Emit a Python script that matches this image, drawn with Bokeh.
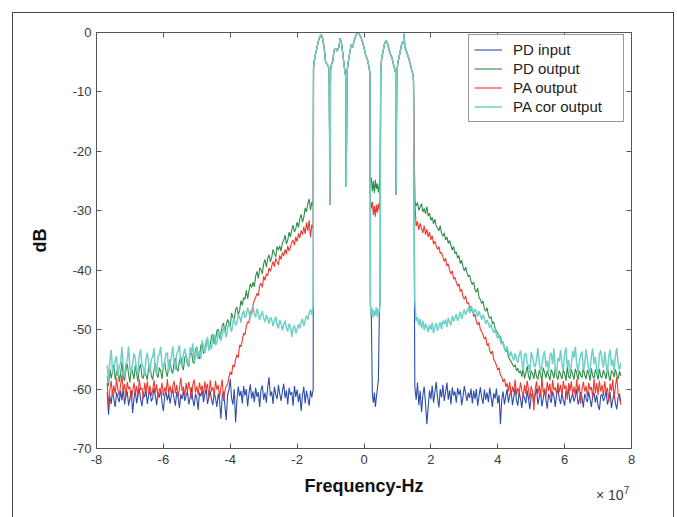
import numpy as np
from bokeh.plotting import figure
from bokeh.models import FixedTicker, LinearAxis, Legend, LegendItem, Range1d, Div
from bokeh.layouts import column
from bokeh.embed import file_html
from bokeh.resources import INLINE

# ---------------- data (frequency in units of 1e7 Hz, level in dB) ----------------
series_names = ["PD input", "PD output", "PA output", "PA cor output"]
x_ticks = [-8, -6, -4, -2, 0, 2, 4, 6, 8]
y_ticks = [-70, -60, -50, -40, -30, -20, -10, 0]

# sampling grid of the out-of-band parts (-7.68 .. -1.52 and 1.52 .. 7.68, step 0.04)
left_freq = np.round(-7.68 + 0.04 * np.arange(155), 2)
right_freq = np.round(1.52 + 0.04 * np.arange(155), 2)

# in-band spectrum (shared by all four traces)
band_left_freq = [-1.51, -1.49, -1.45, -1.42, -1.38, -1.34, -1.30, -1.27, -1.24, -1.21,
                  -1.18, -1.15, -1.11, -1.07, -1.04, -1.02, -1.00, -0.97, -0.93, -0.90,
                  -0.85, -0.80, -0.75, -0.71, -0.67, -0.64, -0.60, -0.56, -0.54, -0.53,
                  -0.51, -0.48, -0.42, -0.38, -0.34, -0.30, -0.25, -0.20, -0.15, -0.10,
                  -0.05, 0.00, 0.05, 0.10, 0.15, 0.18]
band_left_db = [-6.0, -4.9, -3.6, -3.0, -1.8, -1.0, -0.5, -0.4, -1.0, -1.9,
                -3.2, -4.9, -5.3, -5.6, -6.5, -29.0, -6.2, -5.3, -4.8, -3.0,
                -2.7, -3.1, -2.4, -1.0, -1.9, -3.3, -5.3, -7.0, -7.4, -26.0,
                -6.8, -5.3, -3.2, -2.0, -2.5, -1.5, -0.6, 0.0, -0.2, -0.7,
                -1.5, -2.5, -3.8, -4.5, -5.8, -7.0]
band_right_freq = [0.50, 0.53, 0.57, 0.61, 0.66, 0.70, 0.75, 0.80, 0.84, 0.89,
                   0.93, 0.95, 0.96, 0.98, 1.01, 1.06, 1.10, 1.14, 1.18, 1.20,
                   1.22, 1.27, 1.32, 1.37, 1.42, 1.46, 1.48]
band_right_db = [-6.3, -4.3, -3.2, -2.0, -1.3, -1.8, -2.9, -3.8, -4.3, -5.6,
                 -6.3, -7.0, -27.3, -6.8, -5.2, -3.8, -2.7, -1.6, -1.8, -0.2,
                 -2.4, -3.2, -4.0, -5.0, -6.2, -7.0, -8.0]

# centre notch
notch_freq = [0.19, 0.22, 0.25, 0.28, 0.31, 0.34, 0.37, 0.40, 0.43, 0.46, 0.48]
pd_input_notch = [-45.5, -48.0, -61.0, -62.3, -60.6, -63.0, -61.4, -60.0, -58.5, -47.0, -45.0]
pd_output_notch = [-25.2, -24.4, -26.7, -25.0, -27.0, -24.8, -26.3, -25.4, -26.9, -25.6, -24.9]
pa_output_notch = [-28.0, -29.6, -28.5, -30.7, -29.2, -31.0, -29.0, -30.3, -28.8, -29.8, -28.4]
pa_cor_notch = [-46.0, -47.5, -46.4, -48.0, -46.8, -47.6, -46.2, -47.9, -46.5, -47.2, -45.5]

# ---- PD input (blue) ----
pd_input_left = [
    -60.5, -64.3, -61.2, -62.5, -60.1, -61.8, -63.0, -60.6, -61.4, -62.2,
    -60.3, -61.9, -59.8, -62.6, -61.0, -60.4, -62.8, -61.5, -60.2, -64.0,
    -61.6, -60.2, -62.4, -61.1, -59.9, -61.7, -62.9, -60.8, -61.3, -60.1,
    -62.5, -61.0, -60.4, -62.1, -61.5, -59.8, -61.2, -62.7, -60.6, -61.4,
    -60.0, -62.3, -63.7, -61.2, -60.5, -61.9, -60.7, -62.4, -61.0, -59.9,
    -61.6, -62.8, -60.5, -61.3, -63.2, -60.9, -61.7, -60.2, -62.0, -61.1,
    -60.4, -62.6, -61.4, -59.7, -61.8, -62.9, -60.8, -61.5, -63.5, -60.6,
    -61.2, -60.1, -62.2, -61.0, -59.9, -62.5, -61.4, -60.3, -61.8, -62.7,
    -60.5, -61.6, -63.0, -60.8, -61.9, -65.0, -61.2, -60.4, -62.8, -65.2,
    -61.0, -60.2, -58.3, -61.5, -62.6, -60.0, -65.6, -61.8, -59.6, -61.2,
    -60.3, -62.4, -59.5, -61.1, -60.0, -62.9, -60.7, -59.2, -61.6, -60.4,
    -62.2, -59.8, -61.3, -60.5, -63.0, -60.1, -59.4, -61.8, -60.6, -62.3,
    -59.7, -58.0, -61.2, -60.4, -62.5, -59.6, -60.9, -61.7, -59.3, -60.8,
    -62.0, -60.3, -59.1, -61.5, -60.2, -62.6, -59.8, -61.0, -60.5, -62.8,
    -59.5, -61.3, -60.1, -62.2, -60.7, -63.7, -61.1, -59.6, -62.4, -60.3,
    -61.5, -62.8, -60.2, -61.4, -60.0]
pd_input_right = [
    -59.5, -61.8, -58.9, -62.7, -60.3, -63.9, -61.0, -59.6, -62.4, -65.9,
    -63.0, -60.2, -61.7, -59.4, -62.3, -60.6, -58.8, -61.5, -63.1, -60.0,
    -61.4, -59.3, -62.0, -60.5, -58.9, -61.8, -60.2, -62.6, -59.7, -61.1,
    -60.4, -62.3, -59.8, -61.0, -60.1, -62.7, -61.3, -59.5, -60.8, -62.0,
    -60.6, -61.5, -59.9, -62.4, -60.3, -61.7, -60.0, -62.8, -61.2, -59.7,
    -61.4, -62.5, -60.1, -61.8, -60.6, -62.2, -59.8, -61.3, -63.0, -60.7,
    -61.6, -59.9, -62.4, -61.0, -65.9, -61.8, -60.4, -62.6, -61.2, -60.0,
    -62.3, -61.0, -60.2, -62.7, -61.4, -59.8, -61.9, -62.8, -60.5, -61.6,
    -63.2, -60.9, -61.5, -62.4, -60.2, -61.7, -63.4, -61.1, -60.6, -62.2,
    -61.0, -59.9, -62.6, -61.4, -60.3, -62.9, -61.6, -60.1, -61.8, -63.3,
    -60.8, -61.5, -62.3, -60.4, -61.2, -63.0, -60.9, -59.8, -61.7, -62.5,
    -60.6, -61.9, -62.8, -60.3, -61.1, -59.9, -62.4, -61.5, -60.7, -62.1,
    -61.3, -60.0, -62.6, -61.8, -60.5, -61.4, -63.1, -60.8, -61.6, -62.2,
    -60.4, -61.7, -63.0, -61.2, -60.6, -62.3, -61.0, -62.8, -63.5, -61.1,
    -60.9, -62.0, -61.4, -60.3, -62.6, -61.7, -60.5, -63.2, -61.8, -60.7,
    -62.4, -63.4, -61.3, -60.8, -62.1]

# ---- PD output (green) ----
pd_output_left = [
    -57.8, -59.5, -56.6, -58.2, -57.0, -55.9, -58.4, -57.3, -56.2, -58.8,
    -57.5, -55.4, -57.9, -58.6, -56.8, -55.7, -57.6, -58.9, -56.4, -57.2,
    -58.3, -56.0, -57.4, -58.7, -56.5, -55.8, -57.9, -58.2, -56.9, -57.6,
    -58.5, -56.3, -55.9, -57.8, -58.4, -56.7, -55.6, -57.5, -58.1, -56.4,
    -57.0, -58.3, -56.1, -55.4, -57.2, -57.9, -55.8, -55.0, -56.9, -57.4,
    -55.5, -54.8, -56.6, -57.0, -55.2, -54.5, -56.1, -56.8, -54.7, -54.2,
    -55.9, -56.2, -54.0, -53.6, -55.4, -55.7, -53.3, -52.9, -54.8, -54.9,
    -52.6, -52.4, -54.0, -53.8, -51.9, -51.6, -53.2, -52.7, -51.0, -50.8,
    -52.4, -51.6, -50.2, -49.9, -51.5, -50.6, -49.3, -48.9, -50.4, -49.2,
    -48.3, -48.8, -49.5, -47.2, -47.9, -48.4, -46.6, -46.2, -47.5, -46.8,
    -45.1, -45.9, -44.6, -44.9, -43.4, -44.8, -43.5, -42.3, -42.9, -42.0,
    -42.8, -41.0, -40.2, -41.4, -39.6, -39.9, -40.6, -38.9, -38.2, -39.5,
    -38.0, -37.4, -38.6, -37.9, -36.5, -37.2, -37.8, -36.0, -36.6, -35.9,
    -36.8, -35.4, -35.0, -34.1, -35.6, -34.9, -33.6, -34.4, -33.2, -32.4,
    -33.6, -33.0, -31.9, -32.8, -31.4, -30.6, -31.9, -31.1, -29.5, -30.2,
    -28.8, -28.0, -29.9, -28.5, -29.2]
pd_output_right = [
    -28.4, -29.2, -28.6, -29.9, -29.4, -28.8, -30.2, -29.6, -30.5, -29.3,
    -30.9, -30.4, -31.6, -31.1, -32.2, -31.4, -32.6, -32.9, -33.4, -32.5,
    -33.8, -34.3, -33.7, -34.9, -34.4, -35.5, -35.0, -35.8, -36.6, -36.0,
    -37.2, -36.9, -38.0, -37.5, -38.9, -38.3, -39.4, -40.1, -39.5, -40.4,
    -41.1, -40.8, -41.9, -42.4, -42.0, -43.3, -43.7, -43.0, -44.6, -44.9,
    -45.6, -45.2, -46.5, -46.9, -46.3, -47.6, -48.1, -47.8, -49.0, -48.7,
    -49.8, -50.2, -50.6, -51.4, -51.1, -52.3, -52.0, -53.2, -53.7, -53.4,
    -54.6, -55.0, -55.4, -55.8, -56.3, -55.9, -56.9, -56.5, -57.3, -56.9,
    -57.9, -56.5, -58.2, -57.3, -56.1, -57.8, -58.5, -56.9, -57.4, -58.3,
    -56.6, -57.9, -58.4, -56.8, -57.5, -58.6, -56.4, -57.2, -58.1, -56.9,
    -57.7, -58.5, -56.7, -57.3, -58.2, -56.5, -57.8, -58.4, -56.9, -57.6,
    -58.3, -56.8, -57.4, -58.6, -56.3, -57.9, -58.2, -56.7, -57.5, -58.4,
    -56.6, -57.3, -58.5, -56.9, -57.7, -58.1, -56.4, -57.6, -58.3, -56.8,
    -57.4, -58.6, -56.5, -57.8, -58.2, -56.7, -57.3, -58.4, -56.6, -57.9,
    -58.1, -56.8, -57.5, -58.3, -56.4, -57.7, -58.6, -56.9, -57.2, -58.0,
    -56.7, -57.6, -58.3, -57.0, -57.8]

# ---- PA output (red) ----
pa_output_left = [
    -59.0, -63.0, -60.2, -58.6, -61.0, -59.4, -60.8, -58.2, -60.1, -61.2,
    -59.3, -57.6, -60.5, -59.1, -61.4, -58.8, -60.0, -59.6, -62.0, -60.4,
    -58.9, -60.7, -59.5, -61.3, -58.4, -60.1, -59.8, -61.6, -59.0, -60.3,
    -58.7, -60.9, -59.4, -61.1, -60.2, -58.5, -60.6, -59.2, -61.5, -59.9,
    -60.4, -58.9, -61.2, -59.7, -60.5, -58.3, -60.8, -59.4, -61.0, -59.6,
    -58.6, -60.7, -59.3, -61.4, -59.9, -58.1, -60.3, -59.6, -61.2, -59.0,
    -60.5, -58.8, -60.0, -61.7, -59.2, -58.4, -60.6, -59.5, -61.0, -58.9,
    -60.2, -59.4, -61.3, -58.7, -60.0, -59.1, -61.6, -58.5, -60.4, -59.7,
    -61.0, -58.6, -60.1, -59.3, -61.5, -59.8, -58.4, -62.0, -60.3, -59.5,
    -59.2, -58.0, -57.1, -57.6, -55.9, -56.3, -55.0, -54.2, -54.7, -52.6,
    -52.9, -51.8, -50.6, -50.9, -49.4, -48.7, -48.9, -46.9, -47.5, -45.9,
    -45.1, -44.6, -43.9, -44.3, -42.5, -42.2, -42.9, -41.0, -41.7, -40.6,
    -40.9, -39.6, -40.2, -39.3, -38.5, -39.4, -38.0, -38.6, -39.1, -37.5,
    -38.2, -37.0, -37.6, -36.5, -37.3, -35.9, -36.8, -36.1, -35.3, -34.9,
    -35.8, -34.4, -35.2, -33.8, -34.6, -33.3, -34.0, -32.7, -33.9, -32.0,
    -33.4, -31.6, -34.5, -32.3, -33.0]
pa_output_right = [
    -28.5, -32.6, -31.8, -33.2, -32.1, -33.0, -33.7, -32.5, -34.0, -33.1,
    -34.4, -33.6, -34.9, -34.2, -35.6, -35.1, -35.9, -36.5, -36.0, -37.2,
    -37.0, -37.8, -38.5, -38.0, -39.3, -38.9, -40.0, -40.6, -40.1, -41.5,
    -41.2, -42.0, -42.7, -42.3, -43.6, -43.2, -44.4, -44.9, -44.3, -45.6,
    -45.4, -46.3, -46.9, -46.5, -47.8, -47.4, -48.6, -49.2, -48.7, -50.0,
    -50.3, -50.9, -51.6, -51.2, -52.7, -52.3, -53.5, -54.1, -53.6, -55.0,
    -55.4, -56.0, -56.8, -56.4, -57.7, -57.9, -58.8, -58.3, -59.6, -59.0,
    -60.4, -58.8, -61.2, -59.6, -60.5, -58.4, -61.0, -59.8, -60.7, -58.9,
    -60.2, -61.5, -59.3, -60.8, -58.6, -60.1, -61.7, -59.5, -60.4, -63.6,
    -60.0, -58.7, -60.9, -59.4, -61.3, -58.2, -60.6, -59.9, -61.4, -58.8,
    -60.3, -59.1, -61.6, -58.5, -60.2, -59.7, -61.0, -58.9, -60.5, -59.3,
    -61.2, -58.6, -60.0, -59.4, -61.8, -59.0, -60.3, -58.7, -60.9, -59.6,
    -61.1, -58.4, -60.6, -59.2, -62.5, -60.0, -58.8, -60.4, -59.5, -61.3,
    -58.9, -60.2, -59.6, -61.5, -58.3, -60.7, -59.0, -61.0, -58.6, -60.4,
    -59.3, -61.2, -58.7, -60.5, -59.8, -62.2, -59.1, -60.3, -58.4, -61.6,
    -59.5, -58.0, -60.8, -61.5, -62.6]

# ---- PA cor output (cyan) ----
pa_cor_left = [
    -56.0, -58.9, -55.2, -53.4, -57.1, -56.6, -55.0, -54.5, -57.8, -56.2,
    -55.6, -52.9, -56.4, -57.9, -55.7, -55.2, -52.8, -56.6, -57.0, -55.9,
    -54.0, -54.8, -56.9, -57.4, -54.3, -53.3, -55.9, -56.3, -57.8, -54.8,
    -53.9, -55.5, -57.2, -55.0, -54.6, -53.1, -56.7, -57.6, -54.5, -54.1,
    -52.9, -56.2, -56.5, -55.4, -54.0, -53.9, -57.2, -55.6, -54.7, -52.8,
    -55.3, -56.8, -54.1, -53.6, -52.6, -55.8, -56.0, -54.2, -53.2, -54.4,
    -55.1, -56.3, -53.0, -53.9, -52.3, -55.4, -54.8, -52.9, -54.3, -53.6,
    -54.9, -51.8, -52.6, -53.9, -52.8, -51.2, -53.6, -52.5, -53.3, -51.0,
    -50.8, -52.6, -52.2, -50.3, -50.5, -51.9, -51.0, -49.6, -50.2, -51.3,
    -49.8, -48.9, -49.6, -50.4, -48.7, -48.1, -49.3, -48.9, -47.5, -47.9,
    -48.8, -47.4, -46.8, -48.0, -47.6, -46.3, -47.1, -48.2, -46.6, -46.0,
    -47.4, -47.9, -46.5, -47.2, -48.4, -47.6, -46.9, -48.1, -48.7, -47.5,
    -48.2, -49.0, -47.9, -48.3, -49.4, -48.6, -47.8, -49.1, -49.8, -48.4,
    -48.9, -50.1, -49.2, -48.5, -49.7, -50.3, -49.0, -49.5, -51.2, -49.8,
    -49.3, -50.6, -50.0, -49.1, -49.8, -48.7, -48.2, -49.4, -48.5, -47.6,
    -48.3, -47.2, -46.6, -47.5, -46.0]
pa_cor_right = [
    -45.2, -48.6, -47.9, -49.3, -48.2, -49.8, -48.5, -50.1, -49.0, -49.6,
    -50.4, -49.2, -50.0, -48.8, -50.6, -49.5, -48.9, -50.2, -49.4, -48.7,
    -49.9, -48.5, -49.1, -48.3, -49.6, -48.0, -48.8, -49.3, -47.7, -48.6,
    -48.0, -47.4, -48.5, -47.8, -47.0, -48.2, -47.3, -46.6, -47.5, -46.9,
    -46.3, -47.2, -46.0, -46.6, -47.4, -46.5, -47.0, -47.8, -46.9, -47.6,
    -48.3, -47.5, -48.1, -49.0, -48.4, -48.9, -49.7, -49.1, -50.0, -50.5,
    -49.9, -50.9, -51.5, -50.8, -51.9, -52.5, -52.0, -53.1, -53.6, -52.8,
    -53.9, -54.5, -53.7, -54.6, -55.2, -54.0, -54.9, -55.6, -54.3, -53.5,
    -55.4, -56.9, -54.2, -54.0, -55.7, -56.0, -57.3, -53.8, -54.6, -55.9,
    -56.3, -55.0, -53.1, -55.5, -57.0, -56.1, -54.4, -53.6, -56.2, -55.2,
    -57.1, -54.3, -53.9, -55.8, -53.2, -56.6, -57.5, -54.8, -55.3, -53.4,
    -55.9, -56.8, -54.0, -53.0, -56.3, -55.1, -57.4, -56.0, -53.6, -54.7,
    -52.9, -55.6, -57.1, -55.5, -54.2, -53.7, -56.8, -55.9, -53.3, -55.0,
    -56.7, -57.3, -54.4, -53.2, -55.8, -54.6, -56.9, -57.5, -54.1, -53.5,
    -55.2, -56.4, -53.7, -55.9, -57.2, -54.5, -53.4, -56.1, -55.0, -57.0,
    -54.3, -53.1, -55.7, -56.8, -55.6]

series_colors = ["#2d4dad", "#2f8d48", "#ee3a2e", "#6fd0c6"]
series_widths = [1.1, 1.1, 1.1, 1.5]

# ---------------- figure ----------------
FONT = "Liberation Sans"
p = figure(width=677, height=517, x_range=Range1d(-8, 8), y_range=Range1d(-70, 0),
           output_backend="svg", toolbar_location=None,
           min_border_left=96, min_border_right=46, min_border_top=32,
           min_border_bottom=69)
p.xgrid.visible = False
p.ygrid.visible = False
p.outline_line_color = None
p.background_fill_color = "white"
p.border_fill_color = "white"

freq_all = list(left_freq) + band_left_freq + notch_freq + band_right_freq + list(right_freq)
parts = [
    (pd_input_left, pd_input_notch, pd_input_right),
    (pd_output_left, pd_output_notch, pd_output_right),
    (pa_output_left, pa_output_notch, pa_output_right),
    (pa_cor_left, pa_cor_notch, pa_cor_right),
]
items = []
for name, color, lw, (lv, nv, rv) in zip(series_names, series_colors, series_widths, parts):
    assert len(lv) == 155 and len(rv) == 155, name
    ys = lv + band_left_db + nv + band_right_db + rv
    r = p.line(freq_all, ys, line_color=color, line_width=lw)
    items.append(LegendItem(label=name, renderers=[r]))

AX_COLOR = "#555555"
def style_axis(ax, ticks, show_labels):
    ax.ticker = FixedTicker(ticks=ticks)
    ax.major_label_overrides = {t: str(t) for t in ticks}
    ax.major_tick_in = 5
    ax.major_tick_out = 0
    ax.minor_tick_line_color = None
    ax.axis_line_color = AX_COLOR
    ax.major_tick_line_color = AX_COLOR
    ax.major_label_text_font = FONT
    ax.major_label_text_font_size = "13px"
    ax.major_label_text_color = "#3a3a3a" if show_labels else None
    ax.major_label_standoff = 5

style_axis(p.xaxis[0], x_ticks, True)
style_axis(p.yaxis[0], y_ticks, True)
p.xaxis[0].major_label_standoff = 6
p.xaxis.axis_label = "Frequency-Hz"
p.yaxis.axis_label = "dB"
for ax in (p.xaxis[0], p.yaxis[0]):
    ax.axis_label_text_font = FONT
    ax.axis_label_text_font_style = "bold"
    ax.axis_label_text_font_size = "18px"
    ax.axis_label_text_color = "#111111"
p.xaxis[0].axis_label_standoff = 9
p.yaxis[0].axis_label_standoff = 20

top_ax = LinearAxis()
style_axis(top_ax, x_ticks, False)
p.add_layout(top_ax, "above")
right_ax = LinearAxis()
style_axis(right_ax, y_ticks, False)
p.add_layout(right_ax, "right")

legend = Legend(items=items, location=(372, 326))
legend.border_line_color = "#333333"
legend.border_line_width = 1
legend.background_fill_color = "white"
legend.background_fill_alpha = 1.0
legend.label_text_font = FONT
legend.label_text_font_size = "15px"
legend.label_text_color = "#222222"
legend.glyph_width = 28
legend.glyph_height = 19
legend.label_height = 19
legend.label_width = 105
legend.label_standoff = 11
legend.padding = 5
legend.spacing = 0
legend.margin = 0
p.add_layout(legend)

# axis multiplier "x 10^7" and outer frame of the picture (HTML overlays)
mult = Div(text='\u00d7 10<sup style="font-size:10px">7</sup>',
           styles={"position": "absolute", "left": "591px", "top": "479px",
                   "font-family": FONT, "font-size": "14px", "color": "#3a3a3a",
                   "white-space": "nowrap"})
frame = Div(text='<div style="position:absolute;left:7px;top:7px;width:662px;height:509px;'
                 'border-left:1px solid #444;border-top:1px solid #444;'
                 'border-right:1px solid #444;pointer-events:none;"></div>',
            styles={"position": "absolute", "left": "0px", "top": "0px"})
layout = column(p, mult, frame, spacing=0)

open("out.html", "w").write(file_html(layout, INLINE))
